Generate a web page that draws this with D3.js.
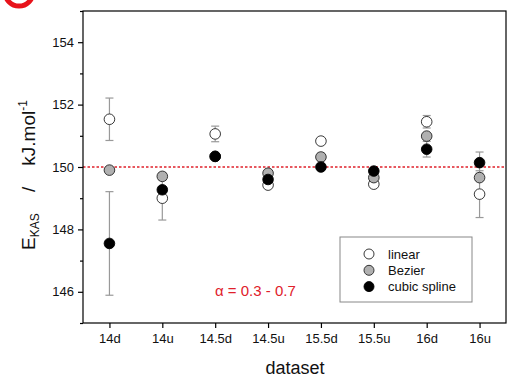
<!DOCTYPE html>
<html><head><meta charset="utf-8">
<script src="https://cdn.jsdelivr.net/npm/d3@7"></script>
<style>body{margin:0;background:#fff}svg{display:block}</style>
</head><body>
<svg id="c" width="507" height="378"></svg>
<script>
const categories = ["14d","14u","14.5d","14.5u","15.5d","15.5u","16d","16u"];
const linearVals = [151.53,149.0,151.06,149.42,150.83,149.45,151.45,149.13];
const linearErr  = [0.68,0.7,0.25,0.05,0.05,0.05,0.2,0.75];
const bezierVals = [149.9,149.7,150.34,149.8,150.32,149.66,150.99,149.66];
const bezierErr  = [0.08,0.12,0.05,0.1,0.12,0.1,0.1,0.1];
const cubicVals  = [147.55,149.27,150.34,149.6,150.0,149.87,150.57,150.14];
const cubicErr   = [1.66,0.1,0.05,0.1,0.1,0.1,0.25,0.34];
const yMajor = [146,148,150,152,154];
const yMinor = [145,147,149,151,153,155];
const refValue = 150;

const series = [
  {name:"linear", vals:linearVals, err:linearErr, fill:"#ffffff"},
  {name:"Bezier", vals:bezierVals, err:bezierErr, fill:"#b0b0b0"},
  {name:"cubic spline", vals:cubicVals, err:cubicErr, fill:"#000000"}
];

const svg = d3.select("#c");
const L=83, R=506, T=11, B=323;
const x = d3.scalePoint().domain(categories).range([L,R]).padding(0.5);
const y = d3.scaleLinear().domain([145,155]).range([B,T]);
const font = "Liberation Sans, Arial, sans-serif";

// red panel label circle (partial)
svg.append("circle").attr("cx",19).attr("cy",-8).attr("r",14)
  .attr("fill","none").attr("stroke","#e8131b").attr("stroke-width",5);

// ref line
svg.append("line").attr("x1",L).attr("x2",R).attr("y1",y(refValue)).attr("y2",y(refValue))
  .attr("stroke","#e0202a").attr("stroke-width",1.3).attr("stroke-dasharray","2.5,2");

// error bars
series.forEach(s=>{
  const g = svg.append("g").attr("stroke","#999").attr("stroke-width",1.2);
  categories.forEach((c,i)=>{
    const cx=x(c), y1=y(s.vals[i]+s.err[i]), y2=y(s.vals[i]-s.err[i]);
    g.append("line").attr("x1",cx).attr("x2",cx).attr("y1",y1).attr("y2",y2);
    g.append("line").attr("x1",cx-4).attr("x2",cx+4).attr("y1",y1).attr("y2",y1);
    g.append("line").attr("x1",cx-4).attr("x2",cx+4).attr("y1",y2).attr("y2",y2);
  });
});
// markers
series.forEach(s=>{
  svg.append("g").selectAll("circle").data(categories).join("circle")
    .attr("cx",d=>x(d)).attr("cy",(d,i)=>y(s.vals[i])).attr("r",5.3)
    .attr("fill",s.fill).attr("stroke",s.name==="cubic spline"?"#000":"#222").attr("stroke-width",0.9);
});

// frame
svg.append("rect").attr("x",L).attr("y",T).attr("width",R-L).attr("height",B-T)
  .attr("fill","none").attr("stroke","#000").attr("stroke-width",1.2);

// axes
const yAx = svg.append("g").attr("transform",`translate(${L},0)`)
  .call(d3.axisLeft(y).tickValues(yMajor).tickSize(5).tickPadding(4).tickFormat(d3.format("d")));
const yMin = svg.append("g").attr("transform",`translate(${L},0)`)
  .call(d3.axisLeft(y).tickValues(yMinor).tickSize(3).tickFormat(""));
const xAx = svg.append("g").attr("transform",`translate(0,${B})`)
  .call(d3.axisBottom(x).tickSize(5).tickPadding(6));
[yAx,yMin,xAx].forEach(g=>{
  g.select(".domain").remove();
  g.selectAll("line").attr("stroke","#000").attr("stroke-width",1.2);
  g.selectAll("text").attr("font-family",font).attr("font-size",13).attr("fill","#111");
});

// x label
svg.append("text").attr("x",295).attr("y",374).attr("text-anchor","middle")
  .attr("font-family",font).attr("font-size",18).attr("fill","#111").text("dataset");

// y label
const yl = svg.append("text").attr("transform","translate(35,175) rotate(-90)")
  .attr("text-anchor","middle").attr("font-family",font).attr("font-size",19).attr("fill","#111")
  .style("white-space","pre");
yl.append("tspan").text("E");
yl.append("tspan").attr("font-size",12).attr("dy",4).text("KAS");
yl.append("tspan").attr("dy",-4).text("    /    kJ.mol");
yl.append("tspan").attr("font-size",12).attr("dy",-8).text("-1");

// alpha annotation
svg.append("text").attr("x",215).attr("y",296).attr("font-family",font).attr("font-size",15)
  .attr("fill","#e0202a").text("α = 0.3 - 0.7");

// legend
const lg = svg.append("g");
lg.append("rect").attr("x",340).attr("y",237).attr("width",132).attr("height",65)
  .attr("fill","#fff").attr("stroke","#888").attr("stroke-width",1);
series.forEach((s,i)=>{
  const yy = 254 + i*16.3;
  lg.append("circle").attr("cx",369).attr("cy",yy).attr("r",5)
    .attr("fill",s.fill).attr("stroke",s.name==="cubic spline"?"#000":"#222").attr("stroke-width",0.9);
  lg.append("text").attr("x",388).attr("y",yy+4.5).attr("font-family",font).attr("font-size",13)
    .attr("fill","#111").text(s.name);
});
</script>
</body></html>
